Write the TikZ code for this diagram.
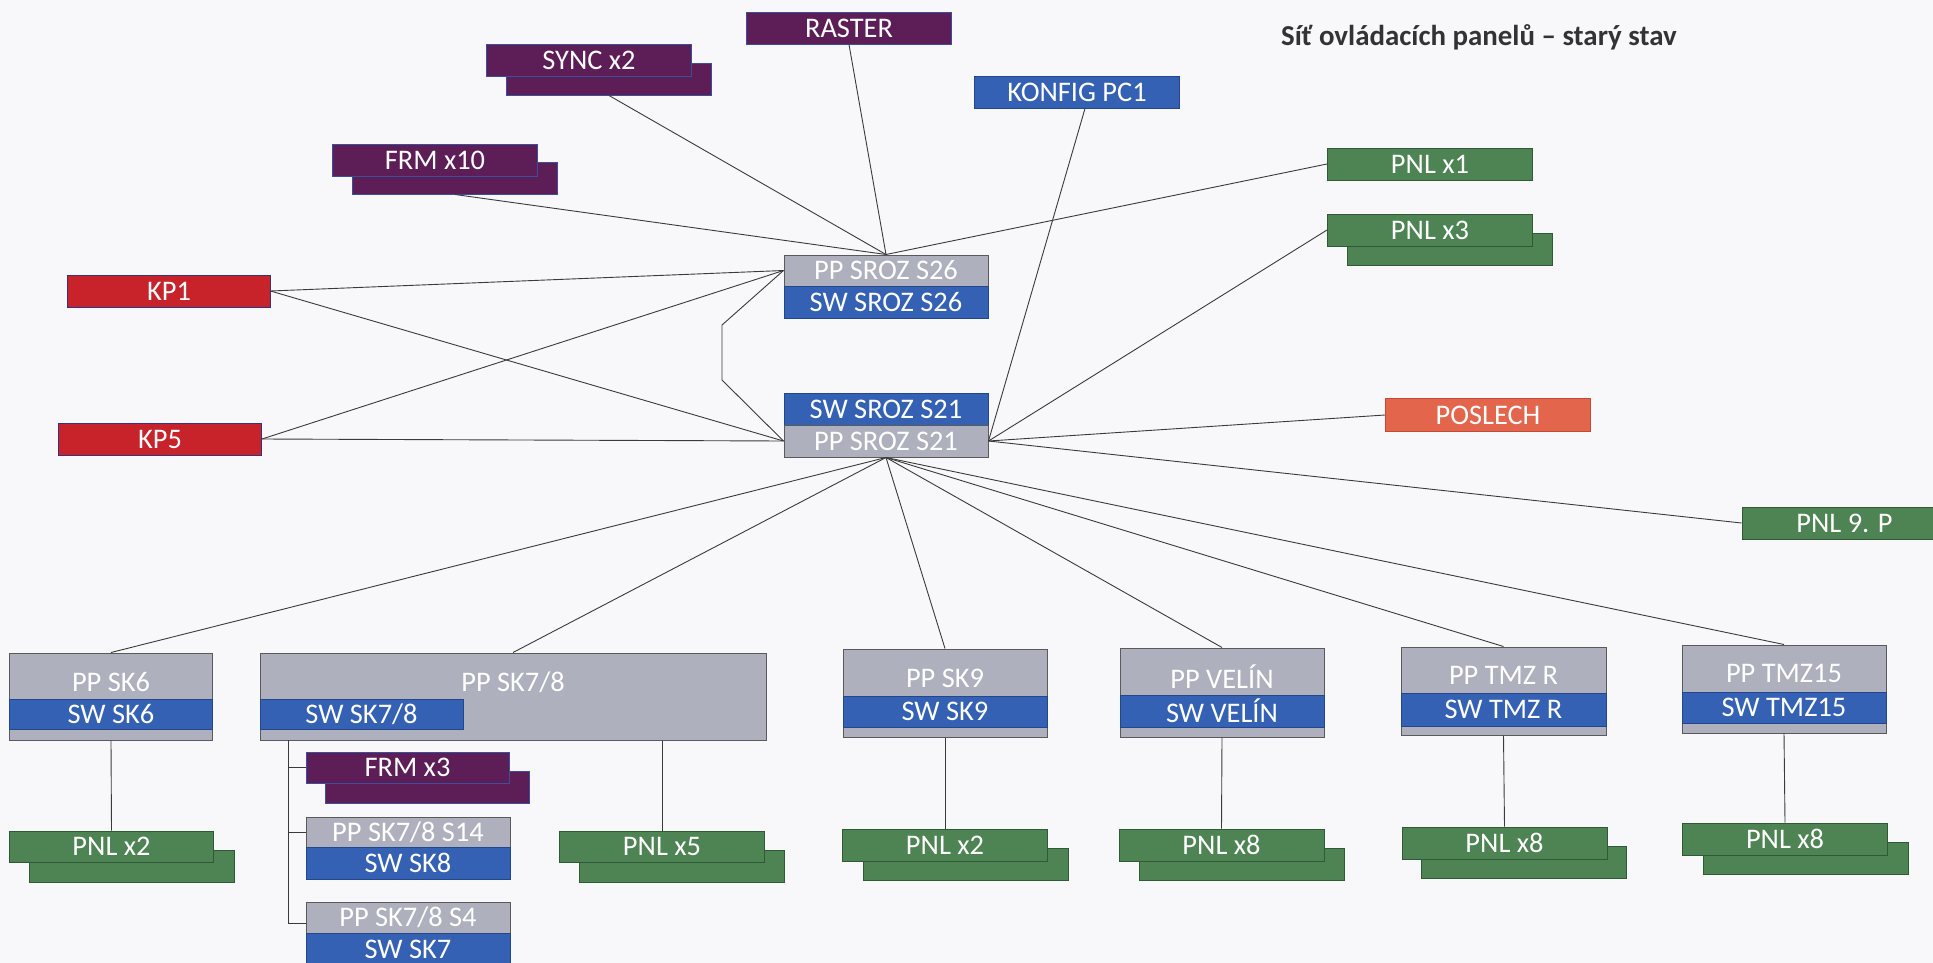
\documentclass[tikz,border=0pt]{standalone}
\usepackage{fontspec}
\setmainfont{Carlito}
\definecolor{bgc}{HTML}{F8F8FA}
\definecolor{cpurp}{HTML}{5D1E58}
\definecolor{cpurpb}{HTML}{3B4E9A}
\definecolor{cred}{HTML}{C8222B}
\definecolor{credb}{HTML}{33337F}
\definecolor{corange}{HTML}{E2654C}
\definecolor{corangeb}{HTML}{C44A38}
\definecolor{cgreen}{HTML}{4E8453}
\definecolor{cgreenb}{HTML}{2F5A35}
\definecolor{cblue}{HTML}{3561B4}
\definecolor{cblueb}{HTML}{24468C}
\definecolor{cgray}{HTML}{AEB1BD}
\definecolor{cgrayb}{HTML}{5A5A5A}
\definecolor{clink}{HTML}{3A3A3A}
\begin{document}
\begin{tikzpicture}[x=1bp,y=-1bp,
  bx/.style={draw, line width=1bp, inner sep=0pt, minimum width=205bp, minimum height=32bp,
     text=white, font=\fontsize{28.5}{31}\selectfont},
  purp/.style={bx, fill=cpurp, draw=cpurpb},
  redb/.style={bx, fill=cred, draw=credb},
  oran/.style={bx, fill=corange, draw=corangeb},
  grn/.style={bx, fill=cgreen, draw=cgreenb},
  blu/.style={bx, fill=cblue, draw=cblueb},
  gry/.style={bx, fill=cgray, draw=cgrayb},
  txt/.style={inner sep=0pt, text=white, font=\fontsize{28.5}{31}\selectfont},
  link/.style={draw=clink, line width=0.9bp}]
\clip (0,0) rectangle (1933,963);
\fill[bgc] (0,0) rectangle (1933,963);

% title
\node[anchor=base west, inner sep=0pt, text=black!80, font=\fontsize{29}{32}\selectfont\bfseries] (title) at (1281,45) {Síť ovládacích panelů – starý stav};

% top nodes
\node[purp] (raster) at (849,28) {RASTER};
\node[purp] (syncb) at (609,79) {};
\node[purp] (sync) at (589,60) {SYNC x2};
\node[purp] (frmb) at (455,178) {};
\node[purp] (frm) at (435,160) {FRM x10};
\node[blu] (konfig) at (1077,92) {KONFIG PC1};
\node[grn] (pnl1) at (1430,164) {PNL x1};
\node[grn] (pnl3b) at (1450,249) {};
\node[grn] (pnl3) at (1430,230) {PNL x3};
\node[redb, minimum width=202bp] (kp1) at (169,291) {KP1};
\node[redb, minimum width=203bp] (kp5) at (160,439) {KP5};
\node[oran, minimum height=33bp] (poslech) at (1488,415) {POSLECH};
\node[grn] (pnl9) at (1844.5,523) {PNL 9. P};

% central
\node[gry, minimum width=204bp, minimum height=31bp] (pp26) at (886,270.5) {PP SROZ S26};
\node[blu, minimum width=204bp] (sw26) at (886,302) {SW SROZ S26};
\node[blu, minimum width=204bp] (sw21) at (886,409) {SW SROZ S21};
\node[gry, minimum width=204bp] (pp21) at (886,441) {PP SROZ S21};

% bottom groups
\node[gry, minimum width=202bp, minimum height=87bp] (pp6) at (111,696.5) {};
\node[blu, minimum width=202bp, minimum height=30bp] (sw6) at (111,714) {SW SK6};
\node[txt] (pp6t) at (111,682) {PP SK6};

\node[gry, minimum width=506bp, minimum height=87bp] (pp78) at (513,696.5) {};
\node[blu, minimum width=203bp, minimum height=30bp] (sw78) at (361.5,714) {SW SK7/8};
\node[txt] (pp78t) at (513,682) {PP SK7/8};

\node[gry, minimum width=204bp, minimum height=88bp] (pp9) at (945,693) {};
\node[blu, minimum width=204bp, minimum height=31bp] (sw9) at (945,711.5) {SW SK9};
\node[txt] (pp9t) at (945,678) {PP SK9};

\node[gry, minimum width=204bp, minimum height=89bp] (ppv) at (1222,692.5) {};
\node[blu, minimum width=204bp, minimum height=32bp] (swv) at (1222,711) {SW VELÍN};
\node[txt] (ppvt) at (1222,677) {PP VELÍN};

\node[gry, minimum width=205bp, minimum height=88bp] (ppr) at (1503.5,691) {};
\node[blu, minimum width=205bp, minimum height=33bp] (swr) at (1503.5,709.5) {SW TMZ R};
\node[txt] (pprt) at (1503.5,675) {PP TMZ R};

\node[gry, minimum width=204bp, minimum height=88bp] (pp15) at (1784,689) {};
\node[blu, minimum width=204bp, minimum height=31bp] (sw15) at (1784,707.5) {SW TMZ15};
\node[txt] (pp15t) at (1784,673) {PP TMZ15};

% PNL pairs bottom
\node[grn] (pa2b) at (132,866) {};
\node[grn, minimum width=203bp, minimum height=31bp] (pa2) at (111.5,846.5) {PNL x2};
\node[grn] (pa5b) at (682,866) {};
\node[grn, minimum height=31bp] (pa5) at (662,846.5) {PNL x5};
\node[grn] (pb2b) at (965.5,864.5) {};
\node[grn] (pb2) at (945,845) {PNL x2};
\node[grn] (pv8b) at (1241.5,864.5) {};
\node[grn] (pv8) at (1221.5,845) {PNL x8};
\node[grn] (pr8b) at (1524,862) {};
\node[grn] (pr8) at (1504.5,843) {PNL x8};
\node[grn] (p158b) at (1805.5,858) {};
\node[grn] (p158) at (1785,839) {PNL x8};

% SK7/8 sub-items
\node[purp, minimum width=204bp] (frm3b) at (427,787) {};
\node[purp, minimum width=203bp, minimum height=31bp] (frm3) at (407.5,767.5) {FRM x3};
\node[gry, minimum width=204bp, minimum height=30bp] (s14) at (408,832) {PP SK7/8 S14};
\node[blu, minimum width=204bp] (sw8) at (408,863) {SW SK8};
\node[gry, minimum width=204bp, minimum height=31bp] (s4) at (408,917.5) {PP SK7/8 S4};
\node[blu, minimum width=204bp] (sw7) at (408,949) {SW SK7};

% connectors
\coordinate (lp1) at (722,325);
\coordinate (lp2) at (722,380);
\coordinate (br) at (288,740);
\coordinate (br3) at (306,923);

\draw[link] (pp26.north) -- (syncb.south);
\draw[link] (pp26.north) -- (raster.south);
\draw[link] (pp26.north) -- (frmb.south);
\draw[link] (pp26.north) -- (pnl1.west);
\draw[link] (pp26.west) -- (kp1.east);
\draw[link] (pp26.west) -- (kp5.east);
\draw[link] (pp26.west) -- (lp1) -- (lp2) -- (pp21.west);
\draw[link] (pp21.west) -- (kp1.east);
\draw[link] (pp21.west) -- (kp5.east);
\draw[link] (pp21.east) -- ([xshift=8bp]konfig.south);
\draw[link] (pp21.east) -- (pnl3.west);
\draw[link] (pp21.east) -- (poslech.west);
\draw[link] (pp21.east) -- (pnl9.west);
\draw[link] (pp21.south) -- (pp6.north);
\draw[link] (pp21.south) -- (pp78.north);
\draw[link] (pp21.south) -- (pp9.north);
\draw[link] (pp21.south) -- (ppv.north);
\draw[link] (pp21.south) -- (ppr.north);
\draw[link] (pp21.south) -- (pp15.north);

\draw[link] (pp6.south) -- (pa2.north);
\draw[link] (pp78.south -| pa5.north) -- (pa5.north);
\draw[link] (pp9.south) -- (pb2.north);
\draw[link] (ppv.south) -- (pv8.north);
\draw[link] (ppr.south) -- (pr8.north);
\draw[link] (pp15.south) -- (p158.north);

\draw[link] (br) |- (frm3.west);
\draw[link] (br) |- (s14.west);
\draw[link] (br) |- (br3);
\end{tikzpicture}
\end{document}
